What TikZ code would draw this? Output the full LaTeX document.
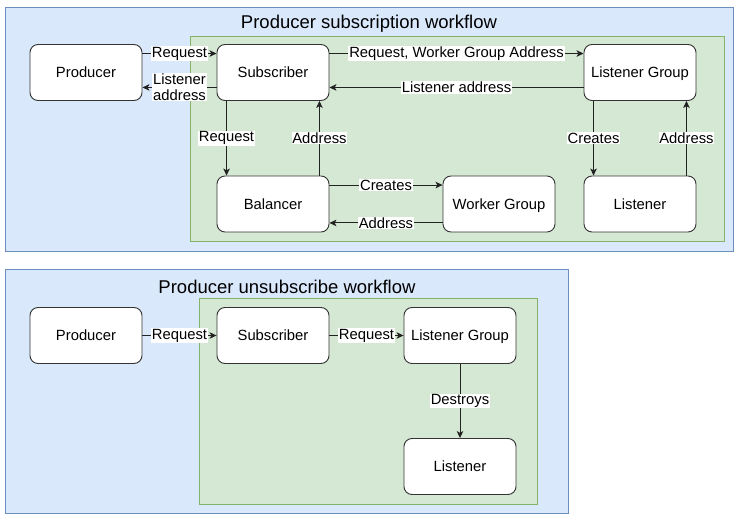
\documentclass[tikz,border=0pt]{standalone}
\usepackage{fontspec}
\setmainfont{Liberation Sans}
\usetikzlibrary{arrows.meta}
\definecolor{bluefill}{HTML}{DAE8FC}
\definecolor{bluestroke}{HTML}{6C8EBF}
\definecolor{greenfill}{HTML}{D5E8D4}
\definecolor{greenstroke}{HTML}{82B366}
\definecolor{edgecol}{HTML}{222222}
\tikzset{
  box/.style={draw=black!80, fill=white, rounded corners=8pt, minimum width=112pt, minimum height=56pt, inner sep=0pt, text height=13.6pt, text depth=3pt, font=\fontsize{14.8}{17}\selectfont, line width=0.9pt},
  conn/.style={draw=edgecol, line width=0.9pt, -{Stealth[length=7pt,width=6.5pt,inset=1.8pt]}},
  lbl/.style={fill=white, inner sep=0.8pt, font=\fontsize{14.8}{15.5}\selectfont, align=center, text=black},
  title/.style={font=\fontsize{18.5}{21}\selectfont},
}
\begin{document}
\begin{tikzpicture}[x=1pt,y=-1pt]
\useasboundingbox (0,0) rectangle (739,518);
% top group
\draw[fill=bluefill, draw=bluestroke, line width=0.9pt] (5,7) rectangle (733,251);
\node[title] (t1) at (369,24) {Producer subscription workflow};
\draw[fill=greenfill, draw=greenstroke, line width=0.9pt] (190,36) rectangle (724,241);
\node[box] (p1) at (86,72.5) {Producer};
\node[box] (s1) at (273,72.5) {Subscriber};
\node[box] (lg1) at (640,72.5) {Listener Group};
\node[box] (b1) at (273,204) {Balancer};
\node[box] (wg1) at (499,204) {Worker Group};
\node[box] (l1) at (640,204) {Listener};
% edges
\draw[conn] ([yshift=-9.5pt]p1.north east) -- node[lbl]{Request} ([yshift=-9.5pt]s1.north west);
\draw[conn] ([yshift=13.5pt]s1.south west) -- node[lbl]{Listener\\address} ([yshift=13.5pt]p1.south east);
\draw[conn] ([yshift=-9.5pt]s1.north east) -- node[lbl]{Request, Worker Group Address} ([yshift=-9.5pt]lg1.north west);
\draw[conn] ([yshift=13.5pt]lg1.south west) -- node[lbl]{Listener address} ([yshift=13.5pt]s1.south east);
\draw[conn] ([xshift=10pt]s1.south west) -- node[lbl]{Request} ([xshift=10pt]b1.north west);
\draw[conn] ([xshift=-10pt]b1.north east) -- node[lbl]{Address} ([xshift=-10pt]s1.south east);
\draw[conn] ([yshift=-9.5pt]b1.north east) -- node[lbl]{Creates} ([yshift=-9.5pt]wg1.north west);
\draw[conn] ([yshift=9.5pt]wg1.south west) -- node[lbl]{Address} ([yshift=9.5pt]b1.south east);
\draw[conn] ([xshift=10pt]lg1.south west) -- node[lbl]{Creates} ([xshift=10pt]l1.north west);
\draw[conn] ([xshift=-10pt]l1.north east) -- node[lbl]{Address} ([xshift=-10pt]lg1.south east);
% bottom group
\draw[fill=bluefill, draw=bluestroke, line width=0.9pt] (5,269) rectangle (568,513);
\node[title] (t2) at (287,287) {Producer unsubscribe workflow};
\draw[fill=greenfill, draw=greenstroke, line width=0.9pt] (199,298) rectangle (537,504);
\node[box] (p2) at (86,335.5) {Producer};
\node[box] (s2) at (273,335.5) {Subscriber};
\node[box] (lg2) at (460,335.5) {Listener Group};
\node[box] (l2) at (460,466.5) {Listener};
\draw[conn] (p2) -- node[lbl]{Request} (s2);
\draw[conn] (s2) -- node[lbl]{Request} (lg2);
\draw[conn] (lg2) -- node[lbl]{Destroys} (l2);
\end{tikzpicture}
\end{document}
